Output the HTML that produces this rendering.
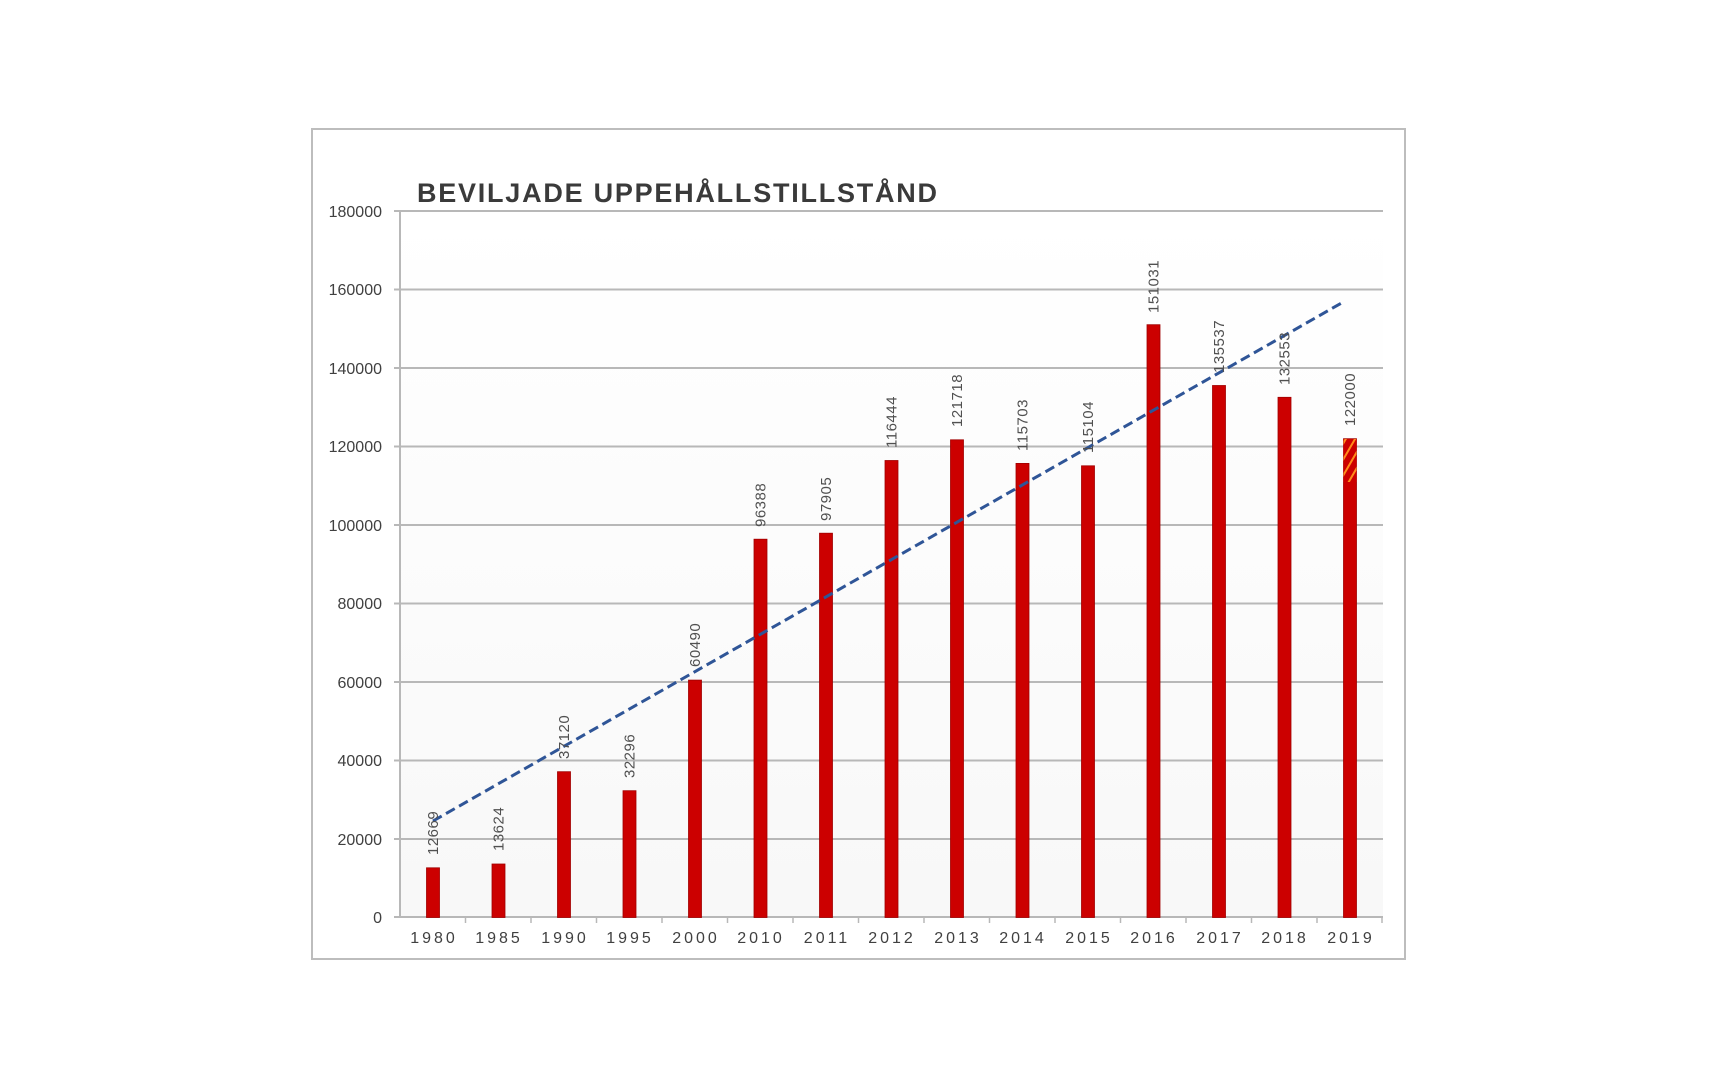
<!DOCTYPE html>
<html><head><meta charset="utf-8"><style>html,body{margin:0;padding:0;background:#fff}svg{display:block}</style></head>
<body>
<svg width="1712" height="1074" xmlns="http://www.w3.org/2000/svg" font-family="Liberation Sans, sans-serif">
<defs>
<linearGradient id="bg" x1="0" y1="0" x2="0" y2="1"><stop offset="0" stop-color="#ffffff"/><stop offset="1" stop-color="#f8f8f8"/></linearGradient>
<pattern id="hatch" width="8" height="8" patternUnits="userSpaceOnUse" patternTransform="rotate(30)"><rect width="8" height="8" fill="#cc0000"/><rect x="0" y="0" width="2" height="8" fill="#ff8c1a"/></pattern>
</defs>
<rect x="0" y="0" width="1712" height="1074" fill="#fff"/>
<rect x="312" y="129" width="1093" height="830" fill="#fff" stroke="#bdbdbd" stroke-width="2"/>
<rect x="400" y="211" width="983" height="706" fill="url(#bg)"/>
<text x="417" y="202" font-size="27" font-weight="bold" fill="#3a3a3a" textLength="520" lengthAdjust="spacing">BEVILJADE UPPEHÅLLSTILLSTÅND</text>
<g stroke="#b8b8b8" stroke-width="2">
<line x1="394" y1="211" x2="1383" y2="211"/><line x1="394" y1="289.5" x2="1383" y2="289.5"/><line x1="394" y1="368" x2="1383" y2="368"/><line x1="394" y1="446.5" x2="1383" y2="446.5"/><line x1="394" y1="525" x2="1383" y2="525"/><line x1="394" y1="603.5" x2="1383" y2="603.5"/><line x1="394" y1="682" x2="1383" y2="682"/><line x1="394" y1="760.5" x2="1383" y2="760.5"/><line x1="394" y1="839" x2="1383" y2="839"/><line x1="394" y1="917" x2="1383" y2="917"/>
<line x1="400" y1="211" x2="400" y2="917"/>
</g>
<g stroke="#b8b8b8" stroke-width="1.5">
<line x1="465.5" y1="917" x2="465.5" y2="923"/><line x1="531" y1="917" x2="531" y2="923"/><line x1="596.5" y1="917" x2="596.5" y2="923"/><line x1="662" y1="917" x2="662" y2="923"/><line x1="727.5" y1="917" x2="727.5" y2="923"/><line x1="793" y1="917" x2="793" y2="923"/><line x1="858.5" y1="917" x2="858.5" y2="923"/><line x1="924" y1="917" x2="924" y2="923"/><line x1="989.5" y1="917" x2="989.5" y2="923"/><line x1="1055" y1="917" x2="1055" y2="923"/><line x1="1120.5" y1="917" x2="1120.5" y2="923"/><line x1="1186" y1="917" x2="1186" y2="923"/><line x1="1251.5" y1="917" x2="1251.5" y2="923"/><line x1="1317" y1="917" x2="1317" y2="923"/><line x1="1382" y1="917" x2="1382" y2="923"/>
</g>
<g font-size="16" fill="#404040" text-anchor="end">
<text x="382" y="217">180000</text><text x="382" y="295">160000</text><text x="382" y="374">140000</text><text x="382" y="452">120000</text><text x="382" y="531">100000</text><text x="382" y="609">80000</text><text x="382" y="688">60000</text><text x="382" y="766">40000</text><text x="382" y="845">20000</text><text x="382" y="923">0</text>
</g>
<g font-size="16" fill="#404040" text-anchor="middle" letter-spacing="3">
<text x="434" y="943">1980</text><text x="499" y="943">1985</text><text x="565" y="943">1990</text><text x="630" y="943">1995</text><text x="696" y="943">2000</text><text x="761" y="943">2010</text><text x="827" y="943">2011</text><text x="892" y="943">2012</text><text x="958" y="943">2013</text><text x="1023" y="943">2014</text><text x="1089" y="943">2015</text><text x="1154" y="943">2016</text><text x="1220" y="943">2017</text><text x="1285" y="943">2018</text><text x="1351" y="943">2019</text>
</g>
<g fill="#cc0000" stroke="#a00000" stroke-width="0.8">
<rect x="426.5" y="867.8" width="13" height="49.7"/>
<rect x="492" y="864" width="13" height="53.5"/>
<rect x="557.5" y="771.7" width="13" height="145.8"/>
<rect x="623" y="790.7" width="13" height="126.8"/>
<rect x="688.5" y="680.1" width="13" height="237.4"/>
<rect x="754" y="539.2" width="13" height="378.3"/>
<rect x="819.5" y="533.2" width="13" height="384.3"/>
<rect x="885" y="460.5" width="13" height="457"/>
<rect x="950.5" y="439.8" width="13" height="477.7"/>
<rect x="1016" y="463.4" width="13" height="454.1"/>
<rect x="1081.5" y="465.8" width="13" height="451.7"/>
<rect x="1147" y="324.7" width="13" height="592.8"/>
<rect x="1212.5" y="385.5" width="13" height="532"/>
<rect x="1278" y="397.3" width="13" height="520.2"/>
<rect x="1343.5" y="438.7" width="13" height="478.8"/>
</g>
<rect x="1343.5" y="439" width="13" height="43" fill="url(#hatch)"/>
<line x1="433" y1="821" x2="1345" y2="301" stroke="#2f5597" stroke-width="3" stroke-dasharray="10,5"/>
<g font-size="15" fill="#505050" letter-spacing="0.5">
<text transform="translate(438,855) rotate(-90)">12669</text>
<text transform="translate(503.5,851) rotate(-90)">13624</text>
<text transform="translate(569,759) rotate(-90)">37120</text>
<text transform="translate(634.5,778) rotate(-90)">32296</text>
<text transform="translate(700,667) rotate(-90)">60490</text>
<text transform="translate(765.5,527) rotate(-90)">96388</text>
<text transform="translate(831,521) rotate(-90)">97905</text>
<text transform="translate(896.5,448) rotate(-90)">116444</text>
<text transform="translate(962,427) rotate(-90)">121718</text>
<text transform="translate(1027.5,451) rotate(-90)">115703</text>
<text transform="translate(1093,453) rotate(-90)">115104</text>
<text transform="translate(1158.5,313) rotate(-90)">151031</text>
<text transform="translate(1224,373) rotate(-90)">135537</text>
<text transform="translate(1289.5,385) rotate(-90)">132553</text>
<text transform="translate(1355,426) rotate(-90)">122000</text>
</g>
</svg>
</body></html>
